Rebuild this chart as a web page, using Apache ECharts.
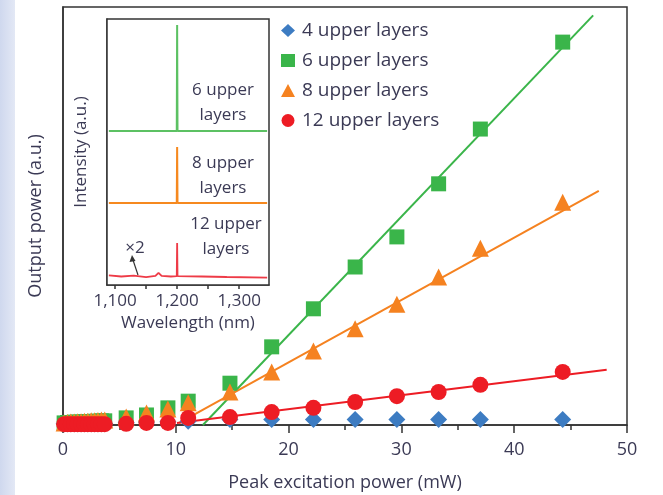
<!DOCTYPE html>
<html>
<head>
<meta charset="utf-8">
<script src="https://cdn.jsdelivr.net/npm/echarts@6/dist/echarts.min.js"></script>
<style>
html,body{margin:0;padding:0;background:#fff;}
#c{width:663px;height:495px;}
</style>
</head>
<body>
<div id="c"></div>
<script>
// Peak excitation power (mW), shared by all series
const power = [0.1, 0.4, 0.7, 1.0, 1.3, 1.6, 1.9, 2.2, 2.5, 2.8, 3.1, 3.4, 3.7, 5.6, 7.4, 9.3, 11.1, 14.8, 18.5, 22.2, 25.9, 29.6, 33.3, 37.0, 44.3];
// Output power (a.u.)
const layers4  = [0.3,0.3,0.3,0.3,0.3,0.3,0.3,0.3,0.3,0.3,0.3,0.3,0.3, 0.6, 0.7, 0.8, 0.9, 1.3, 1.3, 1.3, 1.3, 1.3, 1.3, 1.3, 1.3];
const layers6  = [0.5,0.6,0.6,0.7,0.7,0.7,0.8,0.8,0.8,0.9,0.9,1.0,1.0, 1.7, 2.4, 4.1, 5.7, 10.0, 18.7, 27.8, 37.8, 45.0, 57.7, 70.8, 91.6];
const layers8  = [0.5,0.6,0.7,0.7,0.8,0.8,0.9,0.9,1.0,1.0,1.1,1.2,1.2, 1.9, 2.9, 3.8, 5.3, 7.9, 12.7, 17.7, 23.0, 28.9, 35.4, 42.3, 53.3];
const layers12 = [0.2,0.2,0.2,0.2,0.2,0.2,0.2,0.2,0.2,0.2,0.2,0.2,0.2, 0.3, 0.5, 0.5, 1.7, 1.9, 3.1, 4.1, 5.5, 6.9, 7.9, 9.6, 12.7];
// Linear fits [power, output]
const fit6  = [[12.4, 0], [47.0, 98]];
const fit8  = [[10.3, 0.5], [47.5, 56]];
const fit12 = [[10.1, 0.5], [48.2, 13.2]];
// Inset spectra [wavelength nm, intensity a.u. (offset)]
const spec6  = [[1090,57.9],[1199.4,57.9],[1200,97.7],[1200.6,57.9],[1345,57.9]];
const spec8  = [[1090,30.8],[1199.4,30.8],[1200,51.9],[1200.6,30.8],[1345,30.8]];
const spec12 = [[1090,3.6],[1110,3.2],[1130,3.5],[1150,3.0],[1165,3.4],[1170,4.6],[1175,3.4],[1190,3.2],[1199.4,3.3],[1200,15.8],[1200.6,3.3],[1240,3.2],[1280,3.0],[1345,2.8]];
const mainXTicks = [0, 10, 20, 30, 40, 50];
const insetXTicks = [1100, 1200, 1300];
const insetMinorTicks = [1100, 1150, 1200, 1250, 1300];
const names = ['4 upper layers', '6 upper layers', '8 upper layers', '12 upper layers'];

const TXT = '#3b3a55';
const FONT = 'Open Sans';
const C = {blue:'#3d7cc2', green:'#3ab54a', orange:'#f58220', red:'#ed1c24'};
const pairs = arr => power.map((p, i) => [p, arr[i]]);

const chart = echarts.init(document.getElementById('c'));
chart.setOption({
  animation: false,
  textStyle: {fontFamily: FONT, color: TXT},
  grid: [
    {left: 63, top: 7, width: 564, height: 418, show: true, borderColor: '#333', borderWidth: 1.5, backgroundColor: '#fff', outerBoundsMode: 'none', containLabel: false},
    {left: 107, top: 19, width: 162, height: 266, show: true, borderColor: '#333', borderWidth: 1.5, backgroundColor: '#fff', z: 3, outerBoundsMode: 'none', containLabel: false}
  ],
  xAxis: [
    {gridIndex: 0, type: 'value', min: 0, max: 50, interval: 10,
     name: 'Peak excitation power (mW)', nameLocation: 'middle', nameGap: 49,
     nameTextStyle: {fontSize: 18, color: TXT, fontFamily: FONT},
     axisLine: {lineStyle: {color: '#333', width: 1.5}},
     axisTick: {length: 8, lineStyle: {color: '#333', width: 1.5}},
     minorTick: {show: true, splitNumber: 2, length: 5, lineStyle: {color: '#333', width: 1.5}},
     splitLine: {show: false},
     axisLabel: {fontSize: 18, color: TXT, margin: 16, fontFamily: FONT, customValues: mainXTicks}},
    {gridIndex: 1, type: 'value', min: 1087, max: 1348,
     name: 'Wavelength (nm)', nameLocation: 'middle', nameGap: 29,
     nameTextStyle: {fontSize: 17, color: TXT, fontFamily: FONT},
     axisLine: {lineStyle: {color: '#333', width: 1.5}},
     axisTick: {length: 4, customValues: insetMinorTicks, lineStyle: {color: '#333', width: 1.5}},
     splitLine: {show: false},
     axisLabel: {fontSize: 17, color: TXT, margin: 8, fontFamily: FONT, customValues: insetXTicks,
       formatter: v => v.toLocaleString('en-US')}}
  ],
  yAxis: [
    {gridIndex: 0, type: 'value', min: 0, max: 100,
     name: 'Output power (a.u.)', nameLocation: 'middle', nameGap: 18,
     nameTextStyle: {fontSize: 18, color: TXT, fontFamily: FONT},
     axisLine: {show: true, lineStyle: {color: '#333', width: 1.5}},
     axisTick: {show: false}, axisLabel: {show: false}, splitLine: {show: false}},
    {gridIndex: 1, type: 'value', min: 0, max: 100,
     name: 'Intensity (a.u.)', nameLocation: 'middle', nameGap: 17,
     nameTextStyle: {fontSize: 17, color: TXT, fontFamily: FONT},
     axisLine: {show: true, lineStyle: {color: '#333', width: 1.5}},
     axisTick: {show: false}, axisLabel: {show: false}, splitLine: {show: false}}
  ],
  legend: {
    orient: 'vertical', left: 276, top: 16, itemGap: 11, itemWidth: 14, itemHeight: 13,
    data: names,
    textStyle: {fontSize: 19, color: TXT, fontFamily: FONT, lineHeight: 18, padding: [0,0,0,2]}
  },
  series: [
    {type: 'line', name: 'fit6', data: fit6, showSymbol: false, symbol: 'none', lineStyle: {color: C.green, width: 2}, z: 2, silent: true},
    {type: 'line', name: 'fit8', data: fit8, showSymbol: false, symbol: 'none', lineStyle: {color: C.orange, width: 2}, z: 2, silent: true},
    {type: 'line', name: 'fit12', data: fit12, showSymbol: false, symbol: 'none', lineStyle: {color: C.red, width: 2}, z: 2, silent: true},
    {type: 'scatter', name: names[0], data: pairs(layers4), symbol: 'diamond', symbolSize: [17, 17], itemStyle: {color: C.blue, opacity: 1}, z: 3},
    {type: 'scatter', name: names[1], data: pairs(layers6), symbol: 'rect', symbolSize: 15, itemStyle: {color: C.green, opacity: 1}, z: 4},
    {type: 'scatter', name: names[2], data: pairs(layers8), symbol: 'triangle', symbolSize: 17, itemStyle: {color: C.orange, opacity: 1}, z: 5},
    {type: 'scatter', name: names[3], data: pairs(layers12), symbol: 'circle', symbolSize: 16, itemStyle: {color: C.red, opacity: 1}, z: 6},
    {type: 'line', xAxisIndex: 1, yAxisIndex: 1, data: spec6, showSymbol: false, symbol: 'none', lineStyle: {color: '#5cc163', width: 2}, z: 4, silent: true},
    {type: 'line', xAxisIndex: 1, yAxisIndex: 1, data: spec8, showSymbol: false, symbol: 'none', lineStyle: {color: '#f6891f', width: 2}, z: 4, silent: true},
    {type: 'line', xAxisIndex: 1, yAxisIndex: 1, data: spec12, showSymbol: false, symbol: 'none', lineStyle: {color: '#ee3b47', width: 1.8}, z: 4, silent: true}
  ],
  graphic: [
    {type: 'rect', left: 0, top: 0, shape: {width: 15, height: 495}, style: {fill: new echarts.graphic.LinearGradient(0,0,1,0,[{offset:0,color:'#cfd8ee'},{offset:1,color:'#e3e8f5'}])}, z: -10},
    {type: 'text', x: 223, y: 90, z: 10, style: {text: '6 upper', fontSize: 17, fontFamily: FONT, fill: TXT, align: 'center', verticalAlign: 'middle'}},
    {type: 'text', x: 223, y: 115, z: 10, style: {text: 'layers', fontSize: 17, fontFamily: FONT, fill: TXT, align: 'center', verticalAlign: 'middle'}},
    {type: 'text', x: 223, y: 163, z: 10, style: {text: '8 upper', fontSize: 17, fontFamily: FONT, fill: TXT, align: 'center', verticalAlign: 'middle'}},
    {type: 'text', x: 223, y: 188, z: 10, style: {text: 'layers', fontSize: 17, fontFamily: FONT, fill: TXT, align: 'center', verticalAlign: 'middle'}},
    {type: 'text', x: 226, y: 224, z: 10, style: {text: '12 upper', fontSize: 17, fontFamily: FONT, fill: TXT, align: 'center', verticalAlign: 'middle'}},
    {type: 'text', x: 226, y: 249, z: 10, style: {text: 'layers', fontSize: 17, fontFamily: FONT, fill: TXT, align: 'center', verticalAlign: 'middle'}},
    {type: 'text', x: 135, y: 248, z: 10, style: {text: '×2', fontSize: 17, fontFamily: FONT, fill: TXT, align: 'center', verticalAlign: 'middle'}},
    {type: 'line', z: 10, shape: {x1: 138, y1: 275, x2: 133, y2: 260}, style: {stroke: '#333', lineWidth: 1.2}},
    {type: 'polygon', z: 10, shape: {points: [[132, 255], [129.5, 262], [135.5, 261]]}, style: {fill: '#333'}}
  ]
});
</script>
</body>
</html>
